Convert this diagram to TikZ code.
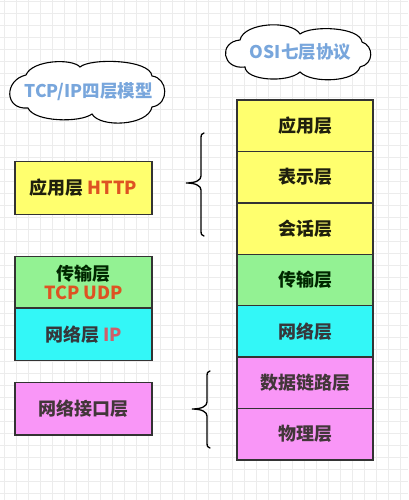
\documentclass[tikz,border=0pt]{standalone}
\usepackage{fontspec}
\setmainfont{Noto Sans CJK SC}
\definecolor{ylw}{HTML}{FFFF6E}
\definecolor{grn}{HTML}{93F293}
\definecolor{cyn}{HTML}{33F7F7}
\definecolor{pnk}{HTML}{F996F7}
\definecolor{edge}{HTML}{333333}
\definecolor{cloudtxt}{HTML}{78A6DC}
\definecolor{redtxt}{HTML}{DE5322}
\definecolor{iptxt}{HTML}{CF5E6A}
\definecolor{gridc}{HTML}{ECECEC}
\tikzset{
  layer/.style={draw=edge, line width=1.4pt, inner sep=0pt, outer sep=0pt,
    minimum width=136pt, font=\fontsize{18}{21}\selectfont\bfseries, align=center},
  cloudline/.style={draw=black, fill=white, line width=1.1pt},
  cloudtext/.style={inner sep=0pt, text=cloudtxt, font=\fontsize{17.5}{20}\selectfont\bfseries},
  bracepath/.style={draw=black, line width=1.3pt, line cap=round}
}
\begin{document}
\begin{tikzpicture}[x=1pt,y=-1pt]
\useasboundingbox (0,0) rectangle (408,500);
\fill[white] (0,0) rectangle (408,500);
% grid
\foreach \i in {0,...,34} \draw[gridc, line width=0.5pt] (\i*12+4,0) -- (\i*12+4,500);
\foreach \j in {0,...,41} \draw[gridc, line width=0.5pt] (0,\j*12+1) -- (408,\j*12+1);

% clouds
\path[cloudline] (245,67) .. controls (222,70) and (218,42) .. (240,40)
  .. controls (244,22) and (292,20) .. (300,34)
  .. controls (312,25) and (360,27) .. (362,42)
  .. controls (374,46) and (374,64) .. (360,67)
  .. controls (356,82) and (312,84) .. (300,72)
  .. controls (288,83) and (246,81) .. (245,67) -- cycle;
\node[cloudtext] (osi) at (300.5,52) {OSI七层协议};

\path[cloudline] (28,108) .. controls (4,110) and (4,80) .. (26,75)
  .. controls (32,60) and (72,58) .. (80,67)
  .. controls (90,58) and (150,59) .. (152,76)
  .. controls (168,78) and (170,104) .. (152,107)
  .. controls (148,126) and (100,128) .. (92,114)
  .. controls (80,123) and (34,122) .. (28,108) -- cycle;
\node[cloudtext] (tcpip) at (88.5,92) {TCP/IP四层模型};

% OSI stack
\node[layer, fill=ylw, minimum height=51.4pt, text=black!80!ylw!60!black] (o7) at (305,125.7) {应用层};
\node[layer, fill=ylw, minimum height=51.4pt, text=black!80!ylw!60!black, anchor=north] (o6) at (o7.south) {表示层};
\node[layer, fill=ylw, minimum height=51.4pt, text=black!80!ylw!60!black, anchor=north] (o5) at (o6.south) {会话层};
\node[layer, fill=grn, minimum height=51.4pt, text=black!75!green!60!black, anchor=north] (o4) at (o5.south) {传输层};
\node[layer, fill=cyn, minimum height=51.4pt, text=black!80!cyan!60!black, anchor=north] (o3) at (o4.south) {网络层};
\node[layer, fill=pnk, minimum height=51.4pt, text=black!80!magenta!70!black, anchor=north] (o2) at (o3.south) {数据链路层};
\node[layer, fill=pnk, minimum height=51.4pt, text=black!80!magenta!70!black, anchor=north] (o1) at (o2.south) {物理层};

% TCP/IP stack
\node[layer, fill=ylw, minimum width=137pt, minimum height=52.6pt, text=black!80!ylw!60!black] (t4) at (83.5,188) {应用层 \textcolor{redtxt}{HTTP}};
\node[layer, fill=grn, minimum width=137pt, minimum height=51.3pt, text=black!75!green!60!black] (t3) at (83.5,282.4) {传输层\\[-2pt]\textcolor{redtxt}{TCP UDP}};
\node[layer, fill=cyn, minimum width=137pt, minimum height=52.7pt, text=black!80!cyan!60!black, anchor=north] (t2) at (t3.south) {网络层 \textcolor{iptxt}{IP}};
\node[layer, fill=pnk, minimum width=137pt, minimum height=52.3pt, text=black!80!magenta!70!black] (t1) at (83.5,408.8) {网络接口层};

% braces
\draw[bracepath] (204,133) .. controls (201.5,133) and (201,135) .. (201,139) -- (201,176)
  .. controls (201,180) and (196,183) .. (186,183)
  .. controls (196,183) and (201,186) .. (201,190) -- (201,230)
  .. controls (201,234) and (201.5,236) .. (204,236);
\draw[bracepath] (210,371) .. controls (207.5,371) and (207,373) .. (207,377) -- (207,402)
  .. controls (207,406) and (202,409) .. (192,409)
  .. controls (202,409) and (207,412) .. (207,416) -- (207,442)
  .. controls (207,446) and (207.5,448) .. (210,448);
\end{tikzpicture}
\end{document}
